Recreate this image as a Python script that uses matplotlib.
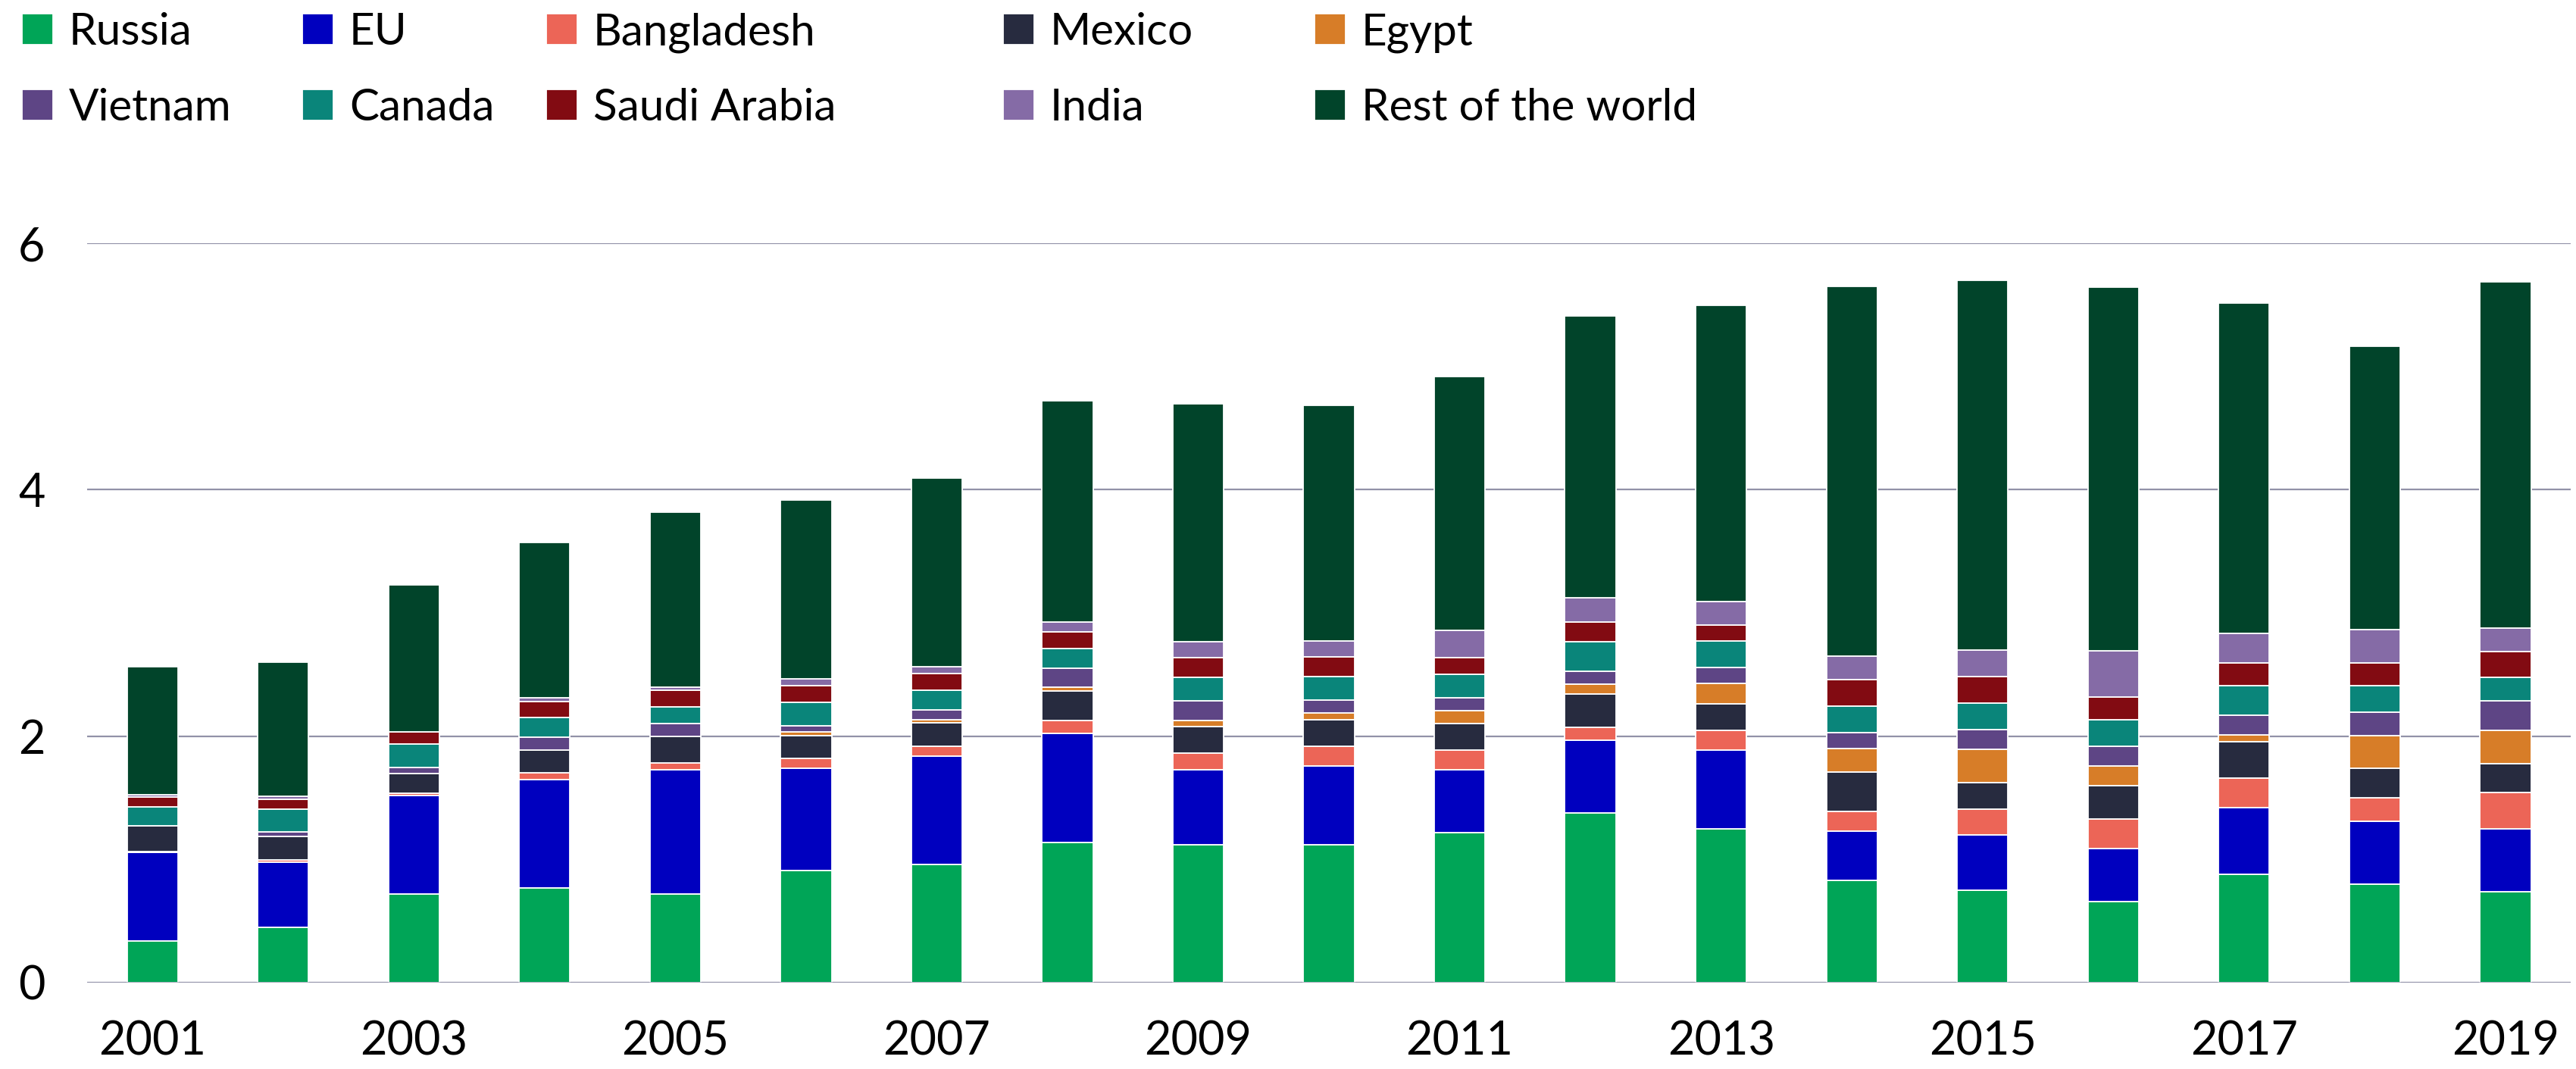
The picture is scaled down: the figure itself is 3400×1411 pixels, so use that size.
import numpy as np
import matplotlib
matplotlib.use("Agg")
import matplotlib.pyplot as plt

plt.rcParams['font.family'] = ['Lato', 'DejaVu Sans']

years = list(range(2001, 2020))
tick_years = list(range(2001, 2020, 2))

russia = [0.34, 0.45, 0.72, 0.77, 0.72, 0.91, 0.96, 1.14, 1.12, 1.12, 1.22, 1.38, 1.25, 0.83, 0.75, 0.66, 0.88, 0.80, 0.74]
eu = [0.72, 0.53, 0.80, 0.88, 1.01, 0.83, 0.88, 0.88, 0.61, 0.64, 0.51, 0.59, 0.64, 0.40, 0.45, 0.43, 0.54, 0.51, 0.51]
bangladesh = [0.005, 0.015, 0.015, 0.05, 0.055, 0.08, 0.08, 0.105, 0.13, 0.16, 0.16, 0.10, 0.16, 0.16, 0.21, 0.24, 0.24, 0.19, 0.29]
mexico = [0.21, 0.19, 0.16, 0.19, 0.21, 0.185, 0.19, 0.24, 0.215, 0.214, 0.21, 0.27, 0.214, 0.32, 0.214, 0.266, 0.296, 0.241, 0.238]
egypt = [0, 0, 0, 0, 0, 0.03, 0.025, 0.033, 0.05, 0.055, 0.107, 0.082, 0.162, 0.19, 0.27, 0.16, 0.052, 0.266, 0.269]
vietnam = [0, 0.04, 0.05, 0.10, 0.11, 0.05, 0.08, 0.156, 0.16, 0.104, 0.107, 0.104, 0.13, 0.13, 0.16, 0.162, 0.159, 0.19, 0.239]
canada = [0.15, 0.185, 0.19, 0.16, 0.13, 0.19, 0.16, 0.16, 0.19, 0.19, 0.19, 0.24, 0.214, 0.214, 0.214, 0.214, 0.242, 0.214, 0.189]
saudi = [0.08, 0.08, 0.10, 0.13, 0.135, 0.135, 0.135, 0.13, 0.16, 0.16, 0.134, 0.162, 0.134, 0.214, 0.214, 0.186, 0.186, 0.186, 0.214]
india = [0.02, 0.025, 0.0, 0.03, 0.03, 0.055, 0.055, 0.08, 0.13, 0.13, 0.22, 0.192, 0.19, 0.19, 0.214, 0.376, 0.242, 0.269, 0.189]
rest = [1.04, 1.085, 1.19, 1.26, 1.42, 1.45, 1.53, 1.80, 1.93, 1.91, 2.06, 2.29, 2.40, 3.00, 3.00, 2.95, 2.68, 2.30, 2.81]

series = [
    ("Russia", russia, "#00a557"),
    ("EU", eu, "#0000bf"),
    ("Bangladesh", bangladesh, "#ec6557"),
    ("Mexico", mexico, "#272b3f"),
    ("Egypt", egypt, "#d77d28"),
    ("Vietnam", vietnam, "#5e4585"),
    ("Canada", canada, "#0a857a"),
    ("Saudi Arabia", saudi, "#820b12"),
    ("India", india, "#856ba6"),
    ("Rest of the world", rest, "#01442a"),
]

fig = plt.figure(figsize=(34, 14.11), dpi=100)
ax = fig.add_axes([0.0338, 0.0808, 0.9642, 0.6917])

bottom = np.zeros(len(years))
handles = {}
for name, vals, col in series:
    vals = np.array(vals)
    b = ax.bar(years, vals, width=0.39, bottom=bottom, color=col,
               edgecolor="white", linewidth=1.3, label=name, zorder=2)
    handles[name] = b
    bottom += vals

ax.set_xlim(2000.5, 2019.5)
ax.set_ylim(0, 6)
ax.set_yticks([0, 2, 4, 6])
ax.set_xticks(tick_years)
ax.yaxis.grid(True, color="#9292a8", linewidth=1.6, zorder=0)
ax.set_axisbelow(True)
ax.axhline(0, color="#9292a8", linewidth=1.8, zorder=3)
for s in ax.spines.values():
    s.set_visible(False)
ax.tick_params(axis="both", length=0, labelsize=44, colors="black")
ax.tick_params(axis="y", pad=40)
ax.tick_params(axis="x", pad=36)

# legend: five columns of two entries each
cols = [("Russia", "Vietnam"), ("EU", "Canada"), ("Bangladesh", "Saudi Arabia"),
        ("Mexico", "India"), ("Egypt", "Rest of the world")]
col_x = [29, 399, 721, 1324, 1735]
for names, x in zip(cols, col_x):
    fig.legend([handles[n] for n in names], list(names),
               loc="upper left", bbox_to_anchor=(x / 3400, 1 - 16 / 1411),
               frameon=False, fontsize=42, handlelength=0.7, handleheight=0.7,
               handletextpad=0.36, labelspacing=0.8, borderpad=0, borderaxespad=0)

fig.savefig("out.png", dpi=100, facecolor="white")
